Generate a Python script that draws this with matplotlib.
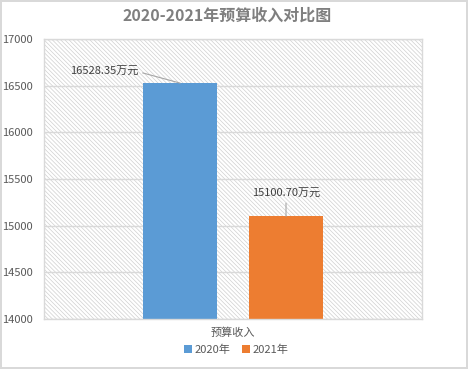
import numpy as np
import matplotlib
matplotlib.use('Agg')
import matplotlib.pyplot as plt
from matplotlib.patches import Rectangle, Patch

plt.rcParams['font.family'] = ['Noto Sans CJK SC', 'DejaVu Sans']
plt.rcParams['hatch.linewidth'] = 0.5

# 数据
series = ['2020年', '2021年']
values = [16528.35, 15100.70]
colors = ['#5B9BD5', '#ED7D31']
category = '预算收入'
offsets = [-0.14, 0.14]

fig = plt.figure(figsize=(4.68, 3.69), dpi=100)
fig.patch.set_edgecolor('#d9d9d9')
fig.patch.set_linewidth(1.5)
ax = fig.add_axes([0.094, 0.1355, 0.808, 0.7585])

# 背景斜线
bg = Rectangle((0, 0), 1, 1, transform=ax.transAxes, facecolor='white',
               edgecolor='#d0d0d0', hatch='\\' * 8, linewidth=0, zorder=0.1)
ax.add_patch(bg)

for off, v, c in zip(offsets, values, colors):
    ax.bar(off, v - 14000, bottom=14000, width=0.196, color=c, zorder=2)

ax.set_xlim(-0.5, 0.5)
ax.set_ylim(14000, 17000)
ax.set_yticks(np.arange(14000, 17001, 500))
ax.set_xticks([0])
ax.set_xticklabels([category], fontsize=9, color='#595959')
ax.tick_params(axis='both', length=0, labelsize=8, colors='#595959')
ax.tick_params(axis='x', pad=6)
ax.tick_params(axis='y', pad=8)
ax.set_axisbelow(True)
ax.grid(axis='y', color='#d9d9d9', linewidth=1)
for s in ax.spines.values():
    s.set_color('#d9d9d9')
    s.set_linewidth(1)

# 数据标签
lab1 = f'{values[0]:.2f}万元'
lab2 = f'{values[1]:.2f}万元'
ax.annotate(lab1, xy=(offsets[0], values[0]), xytext=(-0.25, 16650),
            ha='right', va='center', fontsize=8, color='#404040',
            arrowprops=dict(arrowstyle='-', color='#a6a6a6', lw=0.8,
                            shrinkA=1, shrinkB=0, relpos=(1, 0.5)))
ax.annotate(lab2, xy=(offsets[1], values[1]), xytext=(offsets[1], 15340),
            ha='center', va='center', fontsize=8, color='#404040',
            arrowprops=dict(arrowstyle='-', color='#a6a6a6', lw=0.8,
                            shrinkA=1, shrinkB=0))

fig.text(0.485, 0.958, '2020-2021年预算收入对比图', ha='center', va='center',
         fontsize=11.5, fontweight='bold', color='#7f7f7f')

handles = [Patch(facecolor=c, edgecolor='none') for c in colors]
fig.legend(handles, series, loc='center', bbox_to_anchor=(0.505, 0.052), ncol=2,
           frameon=False, fontsize=8, handlelength=0.7, handleheight=0.7,
           handletextpad=0.3, columnspacing=1.0, labelcolor='#595959')

fig.savefig('out.png', dpi=100, facecolor='white', edgecolor=fig.get_edgecolor())
